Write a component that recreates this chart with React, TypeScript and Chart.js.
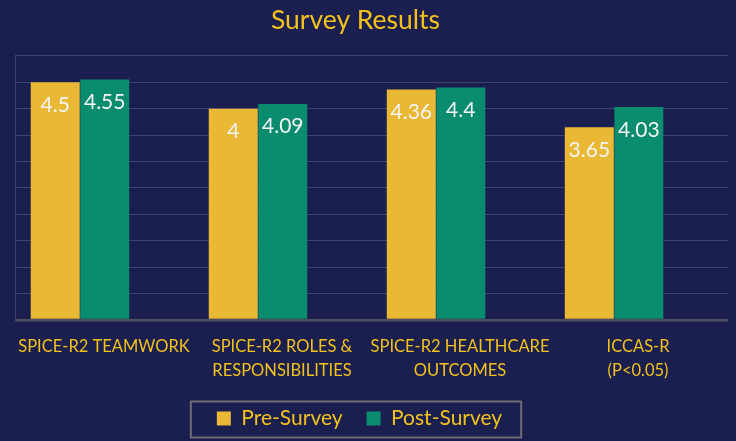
import { useEffect, useRef } from "react";
import { Chart, registerables } from "chart.js";

Chart.register(...registerables);

const categories: string[][] = [
  ["SPICE-R2 TEAMWORK"],
  ["SPICE-R2 ROLES &", "RESPONSIBILITIES"],
  ["SPICE-R2 HEALTHCARE", "OUTCOMES"],
  ["ICCAS-R", "(P<0.05)"],
];
const preSurvey = [4.5, 4.0, 4.36, 3.65];
const postSurvey = [4.55, 4.09, 4.4, 4.03];
const seriesNames = ["Pre-Survey", "Post-Survey"];
const yMax = 5;
const yStep = 0.5;

const BG = "#1b1f50";
const YELLOW = "#e9b936";
const GREEN = "#0a8c6e";
const TEXT_YELLOW = "#f2c21b";
const FONT = "Lato, 'Open Sans', sans-serif";

const valueLabels = {
  id: "valueLabels",
  afterDatasetsDraw(chart: any) {
    const ctx = chart.ctx;
    ctx.save();
    ctx.font = `21px ${FONT}`;
    ctx.fillStyle = "#f4f4f4";
    ctx.textAlign = "center";
    ctx.textBaseline = "alphabetic";
    chart.data.datasets.forEach((ds: any, di: number) => {
      const meta = chart.getDatasetMeta(di);
      meta.data.forEach((el: any, i: number) => {
        const v = ds.data[i].y;
        ctx.fillText(String(v), el.x, el.y + 29.5);
      });
    });
    ctx.restore();
  },
};

const legendFrame = {
  id: "legendFrame",
  afterLayout(chart: any) {
    const lg = chart.legend;
    if (lg) {
      lg.left -= 12;
      lg.right -= 12;
    }
    const t = chart.titleBlock;
    if (t) {
      t.left -= 16;
      t.right -= 16;
    }
  },
  afterDraw(chart: any) {
    const lg = chart.legend;
    if (!lg || !lg.legendHitBoxes || !lg.legendHitBoxes.length) return;
    const hb = lg.legendHitBoxes;
    const first = hb[0];
    const last = hb[hb.length - 1];
    const cy = first.top + first.height / 2;
    const ctx = chart.ctx;
    ctx.save();
    ctx.strokeStyle = "#6f6b73";
    ctx.lineWidth = 2;
    const left = first.left - 26;
    const right = last.left + last.width + 19;
    ctx.strokeRect(left, cy - 17, right - left, 36);
    ctx.restore();
  },
};

export default function App() {
  const ref = useRef<HTMLCanvasElement | null>(null);

  useEffect(() => {
    if (!ref.current) return;
    const chart = new Chart(ref.current, {
      type: "bar",
      data: {
        datasets: [
          {
            label: seriesNames[0],
            data: preSurvey.map((v, i) => ({ x: i, y: v })),
            backgroundColor: YELLOW,
            borderWidth: 0,
          },
          {
            label: seriesNames[1],
            data: postSurvey.map((v, i) => ({ x: i, y: v })),
            backgroundColor: GREEN,
            borderWidth: 0,
          },
        ],
      },
      options: {
        responsive: false,
        animation: false,
        layout: { padding: { left: 15, right: 8, top: 0, bottom: 2 } },
        categoryPercentage: 0.556,
        barPercentage: 0.99,
        scales: {
          x: {
            type: "linear",
            offset: false,
            min: -0.365,
            max: 3.64,
            afterFit: (s: any) => {
              s.paddingLeft = 0;
              s.paddingRight = 0;
              s.height = 64;
            },
            grid: { display: false, drawTicks: false },
            border: { display: false },
            ticks: {
              stepSize: 1,
              includeBounds: false,
              autoSkip: false,
              maxRotation: 0,
              minRotation: 0,
              padding: 15,
              labelOffset: 24,
              color: TEXT_YELLOW,
              font: { family: FONT, size: 16.5, lineHeight: 1.45 },
              callback: (v: any) =>
                Number.isInteger(v) && categories[v] ? categories[v] : "",
            },
          },
          y: {
            min: 0,
            max: yMax,
            afterFit: (s: any) => {
              s.width = 0;
            },
            ticks: { display: false, stepSize: yStep },
            grid: {
              drawTicks: false,
              color: (c: any) =>
                c.tick && c.tick.value === 0 ? "#4d4e5e" : "rgba(255,255,255,0.16)",
              lineWidth: (c: any) => (c.tick && c.tick.value === 0 ? 2.5 : 1),
            },
            border: { display: true, color: "rgba(255,255,255,0.16)", width: 1 },
          },
        },
        plugins: {
          title: {
            display: true,
            text: "Survey Results",
            color: TEXT_YELLOW,
            font: { family: FONT, size: 26.5, weight: "normal", lineHeight: 1.2 },
            padding: { top: 5, bottom: 19 },
          },
          legend: {
            position: "bottom",
            maxHeight: 55,
            labels: {
              boxWidth: 14,
              boxHeight: 14,
              padding: 24,
              color: TEXT_YELLOW,
              font: { family: FONT, size: 21 },
            },
          },
          tooltip: { enabled: false },
        },
      },
      plugins: [valueLabels, legendFrame],
    } as any);
    return () => chart.destroy();
  }, []);

  return (
    <div
      style={{
        position: "fixed",
        left: 0,
        top: 0,
        width: 736,
        height: 441,
        background: BG,
      }}
    >
      <canvas ref={ref} width={736} height={441} style={{ display: "block" }} />
    </div>
  );
}
